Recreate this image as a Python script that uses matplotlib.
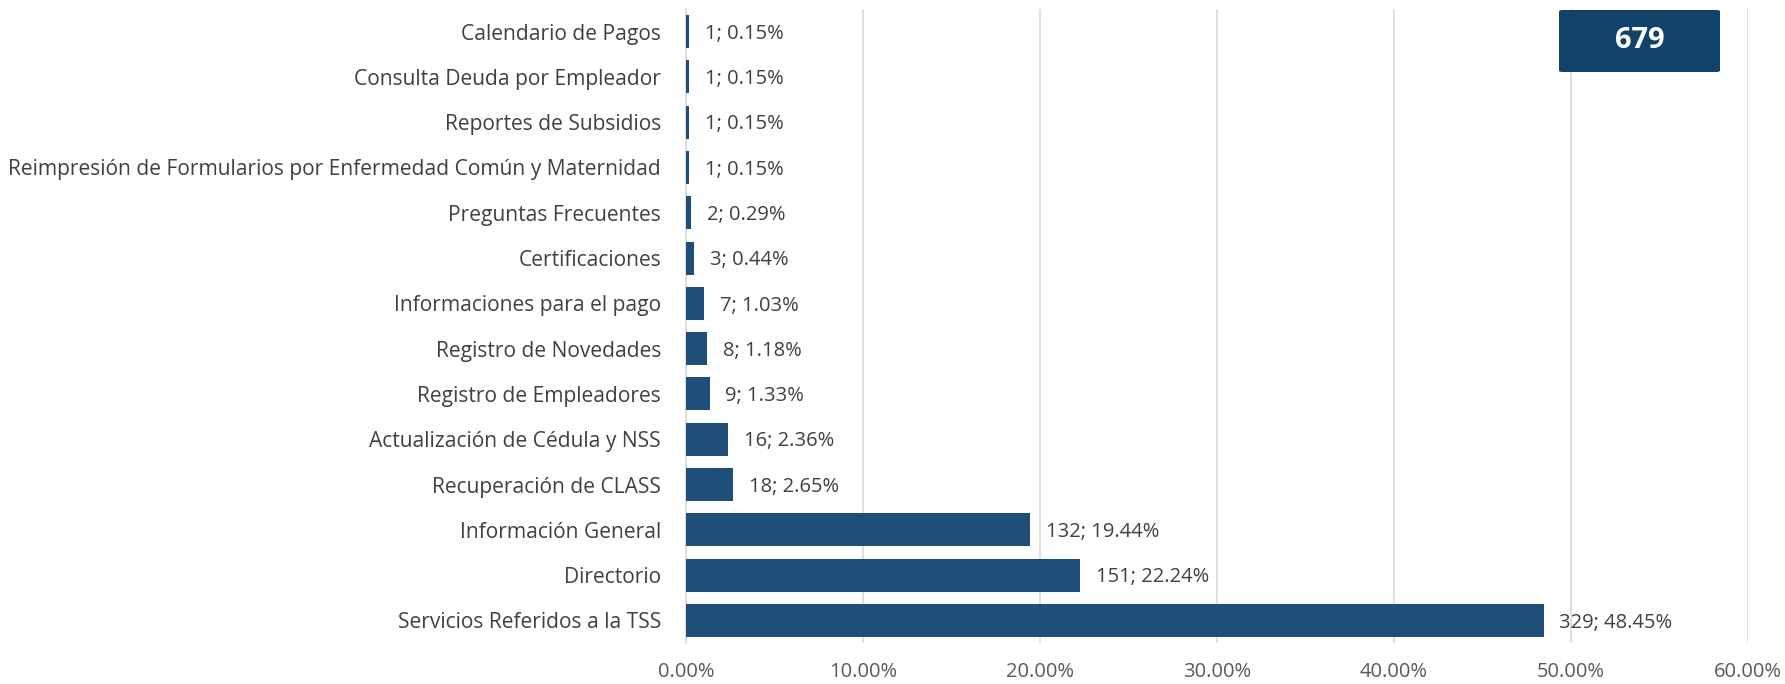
import matplotlib.pyplot as plt
from matplotlib.patches import FancyBboxPatch

# Data (top to bottom as shown)
categories = [
    "Calendario de Pagos",
    "Consulta Deuda por Empleador",
    "Reportes de Subsidios",
    "Reimpresión de Formularios por Enfermedad Común y Maternidad",
    "Preguntas Frecuentes",
    "Certificaciones",
    "Informaciones para el pago",
    "Registro de Novedades",
    "Registro de Empleadores",
    "Actualización de Cédula y NSS",
    "Recuperación de CLASS",
    "Información General",
    "Directorio",
    "Servicios Referidos a la TSS",
]
counts = [1, 1, 1, 1, 2, 3, 7, 8, 9, 16, 18, 132, 151, 329]
percents = [0.15, 0.15, 0.15, 0.15, 0.29, 0.44, 1.03, 1.18, 1.33, 2.36, 2.65, 19.44, 22.24, 48.45]
total = 679

xticks = [0, 10, 20, 30, 40, 50, 60]

plt.rcParams['font.family'] = ['Open Sans', 'DejaVu Sans']

fig = plt.figure(figsize=(17.85, 6.84), dpi=100)
ax = fig.add_axes([686 / 1785, 1 - 643 / 684, (1748 - 686) / 1785, (643 - 9) / 684])

y = list(range(len(categories)))[::-1]
ax.barh(y, percents, height=0.73, color='#1F4E79', zorder=3)

# value labels: "count; percent"
for yi, c, p in zip(y, counts, percents):
    ax.text(p + 0.9, yi - 0.05, f"{c}; {p:.2f}%", va='center', ha='left',
            fontsize=14.5, color='#404040')

ax.set_yticks(y)
ax.set_yticklabels(categories, fontsize=15.1, color='#404040')
ax.set_xticks(xticks)
ax.set_xticklabels([f"{t:.2f}%" for t in xticks], fontsize=14.5, color='#595959')
ax.set_xlim(0, 60)
ax.set_ylim(-0.5, len(categories) - 0.5)
ax.tick_params(axis='both', length=0)
ax.tick_params(axis='y', pad=18)
ax.tick_params(axis='x', pad=14)
ax.grid(axis='x', color='#D9D9D9', linewidth=1.2, zorder=0)
for s in ['top', 'right', 'bottom']:
    ax.spines[s].set_visible(False)
ax.spines['left'].set_color('#D9D9D9')
ax.spines['left'].set_linewidth(1.2)

# total box in the corner
box = FancyBboxPatch((1559 / 1785, 1 - 72 / 684), (1720 - 1559) / 1785, (72 - 10) / 684,
                     boxstyle='round,pad=0,rounding_size=0.002', transform=fig.transFigure,
                     facecolor='#10426A', edgecolor='none', zorder=5)
fig.patches.append(box)
fig.text((1559 + 1720) / 2 / 1785, 1 - 41 / 684, str(total), ha='center', va='center',
         fontsize=21, fontweight='bold', color='white', zorder=6)

fig.savefig('out.png', dpi=100)
